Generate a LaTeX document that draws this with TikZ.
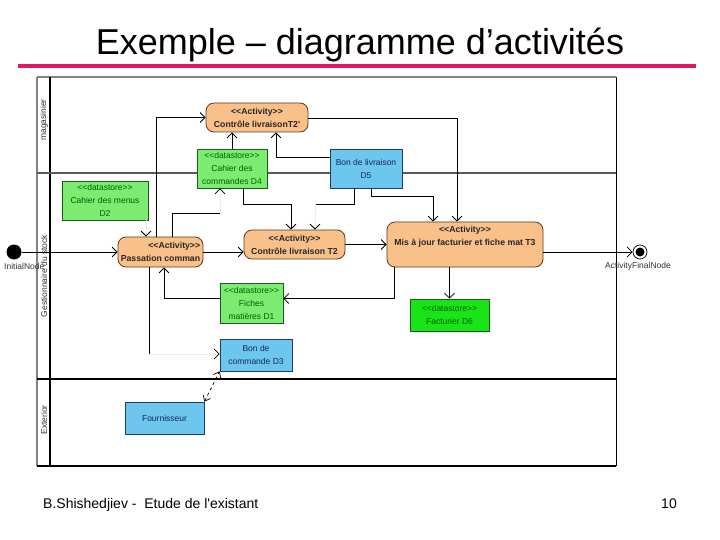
\documentclass[tikz,border=0pt]{standalone}
\usepackage{fontspec}
\setmainfont{Liberation Sans}
\usetikzlibrary{arrows.meta,calc}
\definecolor{pinkline}{RGB}{226,22,98}
\definecolor{actfill}{RGB}{250,192,138}
\definecolor{actdraw}{RGB}{90,60,30}
\definecolor{storefill}{RGB}{124,236,112}
\definecolor{storedraw}{RGB}{30,90,30}
\definecolor{facfill}{RGB}{24,228,24}
\definecolor{bluefill}{RGB}{108,198,238}
\definecolor{bluedraw}{RGB}{30,60,100}
\definecolor{storetext}{RGB}{0,95,0}
\definecolor{bluetext}{RGB}{20,40,90}
\definecolor{lanegray}{RGB}{90,90,90}
\definecolor{framegray}{RGB}{130,130,130}
\newcommand{\stereo}[1]{<{}<#1>{}>}
\tikzset{
  activity/.style={draw=actdraw, fill=actfill, line width=0.8pt, rounded corners=8pt,
    inner sep=0pt, align=center, font=\fontsize{8.7}{13}\selectfont\bfseries, text=black!85},
  store/.style={draw=storedraw, fill=storefill, line width=0.7pt, inner sep=0pt,
    align=center, font=\fontsize{8.5}{13}\selectfont, text=storetext},
  bluebox/.style={draw=bluedraw, fill=bluefill, line width=0.7pt, inner sep=0pt,
    align=center, font=\fontsize{8.5}{13}\selectfont, text=bluetext},
  arr/.style={draw=black, line width=0.8pt, -{Straight Barb[length=5pt,width=10pt]}},
  plain/.style={draw=black, line width=0.8pt},
  faintarr/.style={draw=gray!15, line width=0.8pt, -{Straight Barb[length=5pt,width=10pt,color=black]}},
  lanelabel/.style={rotate=90, font=\fontsize{8.5}{10}\selectfont, text=black!80, inner sep=0pt},
  smalllabel/.style={font=\fontsize{8.5}{10}\selectfont, text=black!80, inner sep=0pt},
}
\begin{document}
\begin{tikzpicture}[x=1pt,y=-1pt]
\useasboundingbox (0,0) rectangle (720,540);
\fill[white] (0,0) rectangle (720,540);

% title and footer
\node[anchor=base, font=\fontsize{36}{40}\selectfont, inner sep=0pt] (title) at (360,55) {Exemple – diagramme d’activités};
\draw[pinkline, line width=4pt] (18,66) -- (696,66);
\node[anchor=base west, font=\fontsize{14}{16}\selectfont, inner sep=0pt] (footer) at (43,508) {B.Shishedjiev -\ \ Etude de l\textquotesingle existant};
\node[anchor=base east, font=\fontsize{14}{16}\selectfont, inner sep=0pt] (pagenum) at (677,508) {10};

% frame and lanes
\draw[framegray, line width=1.6pt] (37,77) -- (616,77);
\draw[framegray, line width=1.6pt] (37,77) -- (37,466);
\draw[black, line width=1.5pt] (50,77) -- (50,466);
\draw[black, line width=1pt] (616,77) -- (616,466);
\draw[black, line width=1.3pt] (37,466) -- (616,466);
\draw[lanegray, line width=1.8pt] (37,173) -- (616,173);
\draw[black, line width=1.4pt] (37,379) -- (616,379);
\node[lanelabel] (lane1) at (44,120) {magasinier};
\node[lanelabel] (lane2) at (44,276) {Gestionnaire du stock};
\node[lanelabel] (lane3) at (44,420) {Exterior};

% nodes
\node[activity, minimum width=102pt, minimum height=29pt] (T2p) at (257,117.5) {\stereo{Activity}\\Contrôle livraisonT2\textquotesingle};
\node[store, minimum width=70pt, minimum height=39pt] (D4) at (232,168.5) {\stereo{datastore}\\Cahier des\\commandes D4};
\node[bluebox, minimum width=72pt, minimum height=39pt] (D5) at (366,168.5) {Bon de livraison\\D5};
\node[store, minimum width=86pt, minimum height=39pt] (D2) at (105,200.5) {\stereo{datastore}\\Cahier des menus\\D2};
\node[activity, minimum width=85pt, minimum height=30pt, align=right] (P) at (160.5,252) {\stereo{Activity}\\Passation comman};
\node[activity, minimum width=101pt, minimum height=29pt] (T2) at (294.5,244.5) {\stereo{Activity}\\Contrôle livraison T2};
\node[activity, minimum width=156pt, minimum height=45pt] (T3) at (465,244.5) {\stereo{Activity}\\Mis à jour facturier et fiche mat T3\\\strut};
\node[store, minimum width=63pt, minimum height=40pt] (D1) at (251.5,303) {\stereo{datastore}\\Fiches\\matières D1};
\node[store, fill=facfill, minimum width=79pt, minimum height=32pt] (D6) at (449.5,315) {\stereo{datastore}\\Facturier D6};
\node[bluebox, minimum width=72pt, minimum height=32pt] (D3) at (256,355) {Bon de\\commande D3};
\node[bluebox, minimum width=79pt, minimum height=32pt] (F) at (164.5,418) {Fournisseur};

\node[circle, fill=black, minimum size=15pt, inner sep=0pt] (init) at (14,252) {};
\node[smalllabel, anchor=base west] (initlab) at (4,269) {InitialNode};
\node[circle, draw=black, line width=0.7pt, minimum size=14pt, inner sep=0pt] (fin) at (640,252) {};
\node[circle, fill=black, minimum size=9pt, inner sep=0pt] (fininner) at (fin) {};
\node[smalllabel] (finlab) at (638,266) {ActivityFinalNode};

% coordinates for bends
\coordinate (cD4) at (220,213);
\coordinate (cD3) at (149,354);
\coordinate (cT2) at (315,204);

% connectors
\draw[arr] (init.east) -- (P.west);
\draw[arr] (P.east) -- (P.east -| T2.west);
\draw[arr] (T2.east) -- (T2.east -| T3.west);
\draw[arr] ([yshift=-7.5pt]T3.east) -- (fin.west);
\draw[arr] (T3.south -| D6.north) -- (D6.north);
\draw[arr] ([xshift=-71pt]T3.south) |- ([yshift=4.5pt]D1.east);
\draw[arr] ([yshift=4.5pt]D1.west) -| ([xshift=3.5pt]P.south);
\draw[plain] ([xshift=-11.5pt]P.south) -- (cD3);
\draw[faintarr] (cD3) -- (cD3 -| D3.west);
\draw[arr] ([xshift=-4.5pt]P.north) |- (T2p.west);
\draw[plain] ([xshift=11.5pt]P.north) |- (cD4);
\draw[faintarr] (cD4) -- (cD4 |- D4.south);
\draw[faintarr] ([xshift=41pt]D2.south) -- ([xshift=-14.5pt]P.north);
\draw[arr] (D4.north) -- (D4.north |- T2p.south);
\draw[arr] ([yshift=11.5pt]D5.west) -| ([xshift=19pt]T2p.south);
\draw[arr] ([xshift=11pt]D4.south) -- ++(0,16) -| ([xshift=-3.5pt]T2.north);
\draw[plain] ([xshift=-12pt]D5.south) |- (cT2);
\draw[faintarr] (cT2) -- (cT2 |- T2.north);
\draw[arr] ([xshift=5pt]D5.south) -- ++(0,8) -| ([xshift=-32pt]T3.north);
\draw[arr] ([yshift=-0.5pt]T2p.east) -| ([xshift=-8pt]T3.north);
\draw[line width=0.7pt, dashed, {Straight Barb[length=5pt,width=8pt]}-{Straight Barb[length=5pt,width=8pt]}] (F.north east) -- (D3.south west);
\end{tikzpicture}
\end{document}
